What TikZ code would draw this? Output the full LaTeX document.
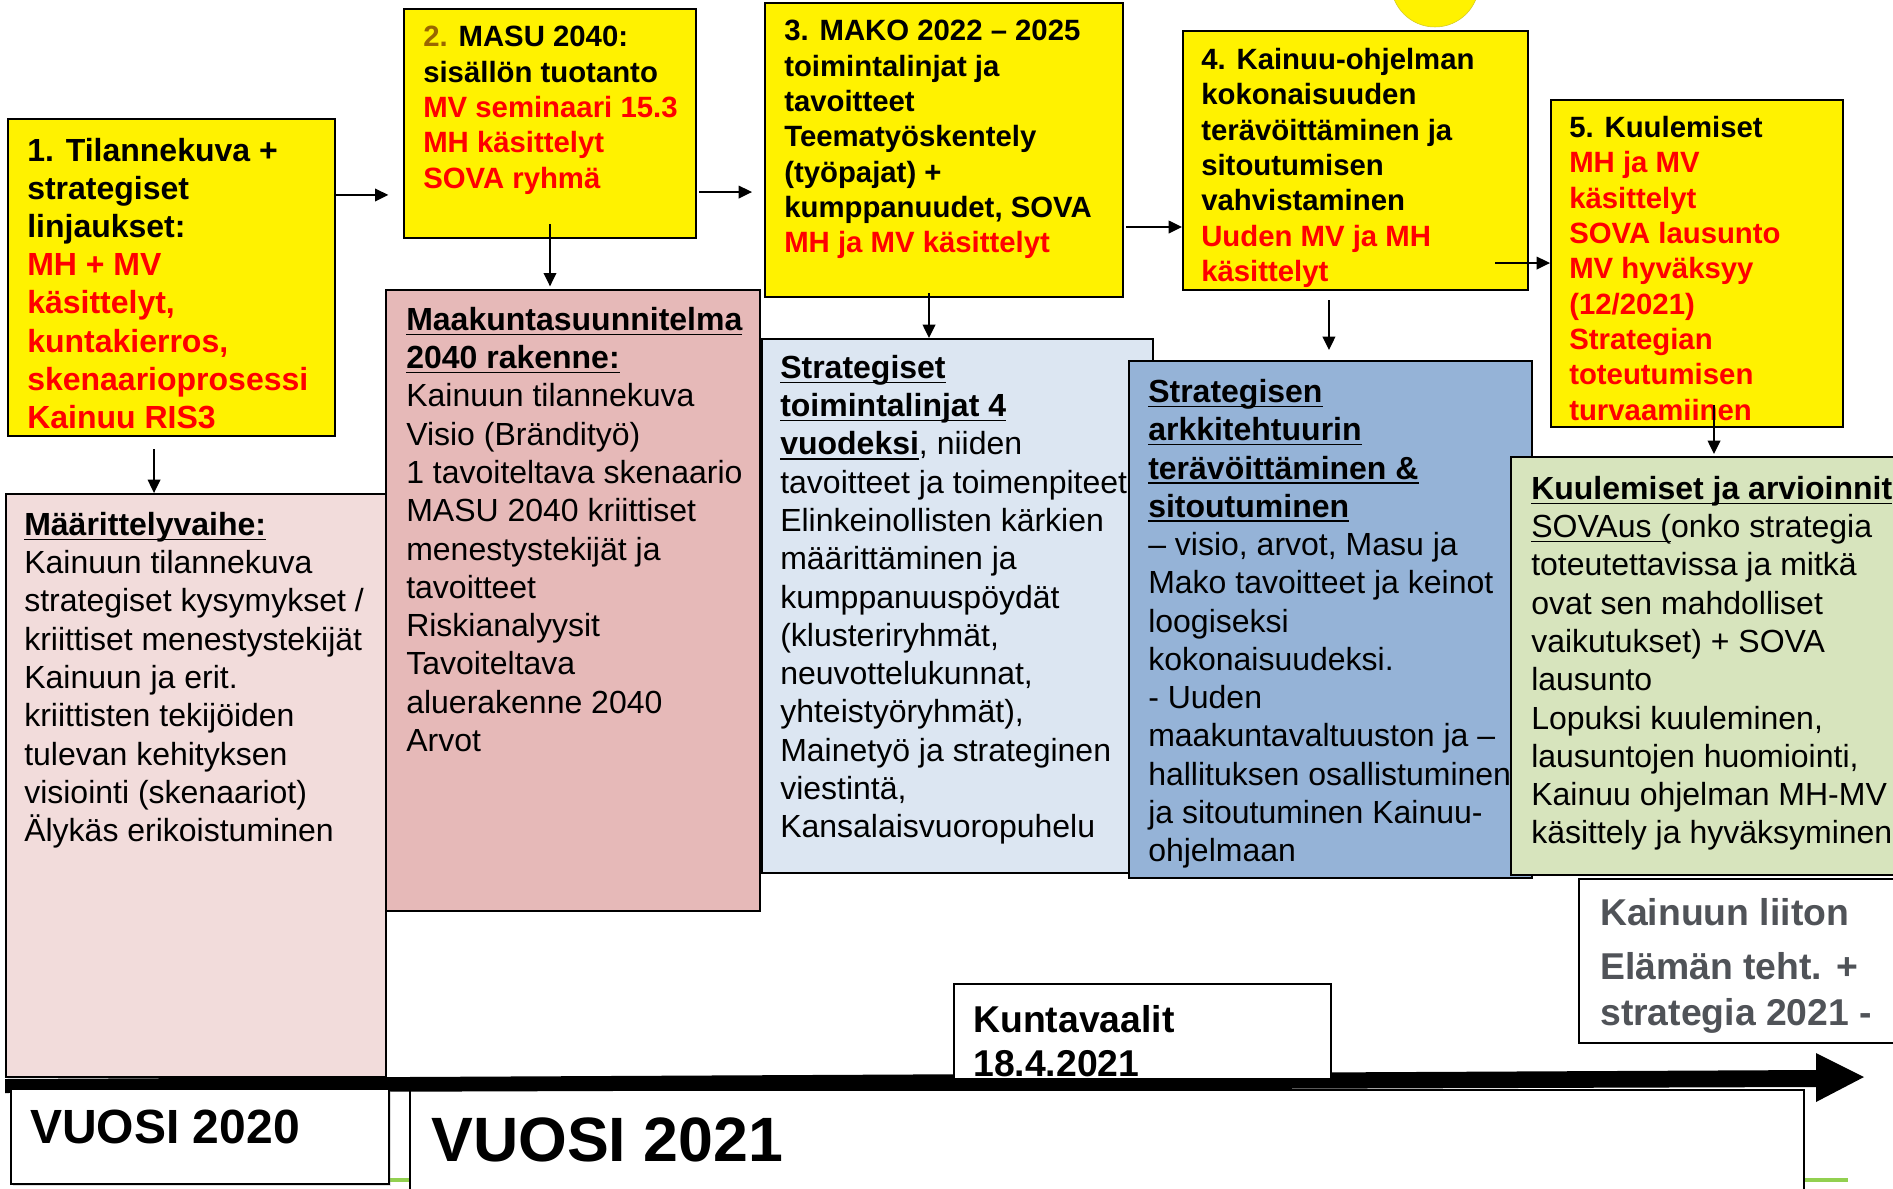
\documentclass[tikz,border=0pt]{standalone}
\usepackage{fontspec}
\setmainfont{Liberation Sans}
\usetikzlibrary{arrows.meta, shadows}
\definecolor{olivebrown}{RGB}{153,102,0}
\definecolor{pinklight}{RGB}{242,220,219}
\definecolor{pinkdark}{RGB}{230,185,184}
\definecolor{bluelight}{RGB}{220,230,242}
\definecolor{bluemid}{RGB}{149,179,215}
\definecolor{greenlight}{RGB}{215,228,189}
\definecolor{textgray}{RGB}{80,83,88}
\definecolor{bargreen}{RGB}{146,208,80}
\newcommand{\ulin}[1]{\setbox0\hbox{#1}\rlap{\rule[-3.5pt]{\wd0}{1.2pt}}\box0}
\newcommand{\rd}[1]{\textcolor{red}{#1}}

\begin{document}
\begin{tikzpicture}[x=0.75pt, y=-0.75pt,
  box/.style={draw, line width=1.2pt, anchor=north west, inner sep=0pt},
  ybox/.style={box, fill=yellow, line width=1.5pt},
  txt/.style={anchor=north west, inner sep=0pt, align=left},
  ytxt/.style={txt, font=\bfseries\fontsize{22pt}{26.5pt}\selectfont},
  btxt/.style={txt, font=\fontsize{24pt}{28.7pt}\selectfont},
  arr/.style={-{Triangle[length=10pt,width=9.5pt]}, line width=1.1pt}]
\useasboundingbox (0,0) rectangle (1893,1189);
\clip (0,0) rectangle (1893,1189);

% sun at the top
\filldraw[fill=yellow, draw=yellow!80!black] (1435,-17) circle[radius=33pt];

% lower boxes
\node[box, fill=pinkdark, minimum width=280.5pt, minimum height=465.75pt] (m2) at (385,289) {};
\node[btxt] (m2t) at (406,307) {\textbf{\ulin{Maakuntasuunnitelma}}\\\textbf{\ulin{2040 rakenne:}}\\Kainuun tilannekuva\\Visio (Brändityö)\\1 tavoiteltava skenaario\\MASU 2040 kriittiset\\menestystekijät ja\\tavoitteet\\Riskianalyysit\\Tavoiteltava\\aluerakenne 2040\\Arvot};
\node[box, fill=pinklight, minimum width=285pt, minimum height=437.25pt] (m1) at (5,493) {};
\node[btxt] (m1t) at (24,512) {\textbf{\ulin{Määrittelyvaihe:}}\\Kainuun tilannekuva\\strategiset kysymykset /\\kriittiset menestystekijät\\Kainuun ja erit.\\kriittisten tekijöiden\\tulevan kehityksen\\visiointi (skenaariot)\\Älykäs erikoistuminen};
\node[box, fill=bluelight, minimum width=293.25pt, minimum height=400.5pt] (m3) at (761,338) {};
\node[btxt] (m3t) at (780,355) {\textbf{\ulin{Strategiset}}\\\textbf{\ulin{toimintalinjat 4}}\\\textbf{\ulin{vuodeksi}}, niiden\\tavoitteet ja toimenpiteet\\Elinkeinollisten kärkien\\määrittäminen ja\\kumppanuuspöydät\\(klusteriryhmät,\\neuvottelukunnat,\\yhteistyöryhmät),\\Mainetyö ja strateginen\\viestintä,\\Kansalaisvuoropuhelu};
\node[box, fill=bluemid, minimum width=302.25pt, minimum height=387.75pt] (m4) at (1128,360) {};
\node[btxt] (m4t) at (1148,379) {\textbf{\ulin{Strategisen}}\\\textbf{\ulin{arkkitehtuurin}}\\\textbf{\ulin{terävöittäminen \&}}\\\textbf{\ulin{sitoutuminen}}\\– visio, arvot, Masu ja\\Mako tavoitteet ja keinot\\loogiseksi\\kokonaisuudeksi.\\- Uuden\\maakuntavaltuuston ja –\\hallituksen osallistuminen\\ja sitoutuminen Kainuu-\\ohjelmaan};
\node[box, fill=greenlight, minimum width=292.5pt, minimum height=313.5pt] (m5) at (1510,456) {};
\node[btxt] (m5t) at (1531,476) {\textbf{\ulin{Kuulemiset ja arvioinnit}}\\\ulin{SOVAus (}onko strategia\\toteutettavissa ja mitkä\\ovat sen mahdolliset\\vaikutukset) + SOVA\\lausunto\\Lopuksi kuuleminen,\\lausuntojen huomiointi,\\Kainuu ohjelman MH-MV\\käsittely ja hyväksyminen};

% yellow phase boxes
\node[ybox, minimum width=245.25pt, minimum height=237.75pt] (b1) at (7,118) {};
\node[txt, font=\bfseries\fontsize{24pt}{28.6pt}\selectfont] (b1t) at (27,138) {1. Tilannekuva +\\strategiset\\linjaukset:\\\rd{MH + MV}\\\rd{käsittelyt,}\\\rd{kuntakierros,}\\\rd{skenaarioprosessi}\\\rd{Kainuu RIS3}};
\node[ybox, minimum width=219pt, minimum height=171.75pt] (b2) at (403,8) {};
\node[ytxt] (b2t) at (423,26) {\textcolor{olivebrown}{2.} MASU 2040:\\sisällön tuotanto\\\rd{MV seminaari 15.3}\\\rd{MH käsittelyt}\\\rd{SOVA ryhmä}};
\node[ybox, minimum width=268.5pt, minimum height=220.5pt] (b3) at (764,2) {};
\node[ytxt] (b3t) at (784,20) {3. MAKO 2022 – 2025\\toimintalinjat ja\\tavoitteet\\Teematyöskentely\\(työpajat) +\\kumppanuudet, SOVA\\\rd{MH ja MV käsittelyt}};
\node[ybox, minimum width=258.75pt, minimum height=194.25pt] (b4) at (1182,30) {};
\node[ytxt] (b4t) at (1201,48) {4. Kainuu-ohjelman\\kokonaisuuden\\terävöittäminen ja\\sitoutumisen\\vahvistaminen\\\rd{Uuden MV ja MH}\\\rd{käsittelyt}};
\node[ybox, minimum width=219pt, minimum height=245.25pt] (b5) at (1550,99) {};
\node[ytxt] (b5t) at (1569,116) {5. Kuulemiset\\\rd{MH ja MV}\\\rd{käsittelyt}\\\rd{SOVA lausunto}\\\rd{MV hyväksyy}\\\rd{(12/2021)}\\\rd{Strategian}\\\rd{toteutumisen}\\\rd{turvaamiinen}};

% timeline
\node[box, fill=white, minimum width=241.5pt, minimum height=123pt] (k1) at (1578,878) {};
\node[txt, text=textgray, font=\bfseries\fontsize{28pt}{34.5pt}\selectfont] (k1t) at (1600,898) {Kainuun liiton\\[6pt]Elämän teht. +\\strategia 2021 -};
\draw[bargreen, line width=3.5pt] (389,1180) -- (1848,1180);
\node[box, fill=white, minimum width=1045.5pt, minimum height=90pt] (v1) at (409,1089) {};
\node[txt, font=\bfseries\fontsize{47pt}{52pt}\selectfont] (v1t) at (431,1117) {VUOSI 2021};
\fill (5,1079) -- (1816,1070) -- (1816,1053) -- (1864,1077) -- (1816,1102) -- (1816,1087) -- (5,1093) -- cycle;
\node[box, fill=white, minimum width=282.75pt, minimum height=71.25pt] (kv) at (953,983) {};
\node[txt, font=\bfseries\fontsize{28pt}{33.5pt}\selectfont] (kvt) at (973,1005) {Kuntavaalit\\18.4.2021};
\node[box, fill=white, minimum width=283.5pt, minimum height=71.25pt,
  drop shadow={opacity=0.25, shadow xshift=2pt, shadow yshift=-2pt}] (v0) at (10,1088) {};
\node[txt, font=\bfseries\fontsize{36pt}{40pt}\selectfont] (v0t) at (30,1110) {VUOSI 2020};

% arrows between phases
\draw[arr, shorten >=11pt] ([yshift=61.9pt]b1.east) -- ([yshift=61.9pt]b1.east -| b2.west);
\draw[arr, shorten <=1.5pt, shorten >=9pt] ([yshift=-51.4pt]b2.east) -- ([yshift=-51.4pt]b2.east -| b3.west);
\draw[arr, shorten <=1.5pt] ([yshift=-57.75pt]b3.east) -- ([yshift=-57.75pt]b3.east -| b4.west);
\draw[arr] ([shift={(-25.5pt,-76.9pt)}]b4.east) -- ([yshift=-76.9pt]b4.east -| b5.west);
\draw[arr, shorten <=9pt] ([xshift=-13.1pt]b1.south) -- ([xshift=-13.1pt]b1.south |- m1.north);
\draw[arr, shorten >=2pt] ([yshift=11.25pt]b2.south) -- (b2.south |- m2.north);
\draw[arr] ([shift={(-11.25pt,3.75pt)}]b3.south) -- ([xshift=-11.25pt]b3.south |- m3.north);
\draw[arr, shorten <=6.75pt, shorten >=7.5pt] ([xshift=-19.9pt]b4.south) -- ([xshift=-19.9pt]b4.south |- m4.north);
\draw[arr, shorten >=1.5pt] ([shift={(12.75pt,17.25pt)}]b5.south) -- ([xshift=12.75pt]b5.south |- m5.north);
\end{tikzpicture}
\end{document}
